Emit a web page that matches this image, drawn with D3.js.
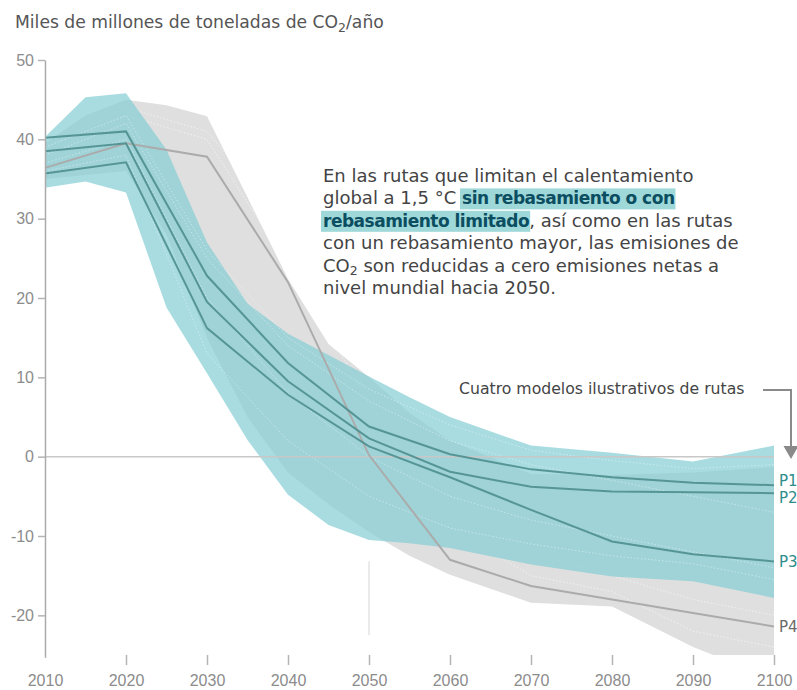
<!DOCTYPE html>
<meta charset="utf-8">
<title>Emisiones de CO2</title>
<style>
body { margin: 0; background: #fff; font-family: "DejaVu Sans", sans-serif; }
svg { display: block; }
.tick text { fill: #8c8c8c; font-size: 16px; }
.tick line { stroke: #b4b4b4; stroke-width: 1.5; }
text { white-space: pre; }
</style>
<body>
<div id="graph"></div>
</body>
<script src="https://cdn.jsdelivr.net/npm/d3@7"></script>
<script>

// illustrative pathways, Gt CO2 per year
var years = [2010, 2020, 2030, 2040, 2050, 2060, 2070, 2080, 2090, 2100];
var p1 = [40.2, 41.0, 22.8, 11.8, 3.8, 0.3, -1.6, -2.6, -3.3, -3.6];
var p2 = [38.5, 39.5, 19.5, 9.5, 2.3, -1.9, -3.8, -4.4, -4.5, -4.6];
var p3 = [35.7, 37.1, 16.2, 7.8, 1.3, -2.6, -6.7, -10.7, -12.3, -13.2];
var p4 = [36.4, 39.5, 37.8, 22.0, 0.2, -13.0, -16.3, -18.0, -19.7, -21.4];

// ranges: no/limited overshoot (teal) and higher overshoot (grey)
var bandYears = [2010, 2015, 2020, 2025, 2030, 2035, 2040, 2045, 2050, 2055, 2060, 2070, 2080, 2090, 2100];
var tealHigh = [40.3, 45.3, 45.8, 38.7, 27.0, 19.3, 15.5, 12.8, 10.1, 7.5, 5.0, 1.4, 0.5, -0.6, 1.4];
var tealLow  = [33.9, 34.7, 33.3, 18.8, 10.5, 2.1, -4.8, -8.6, -10.5, -10.9, -11.5, -13.6, -15.1, -15.7, -17.8];
var greyHigh = [39.5, 43.0, 45.0, 44.3, 42.9, 32.7, 22.4, 14.2, 10.0, 5.5, 2.0, -2.2, -2.3, -2.0, -1.3];
var greyLow  = [35.0, 35.5, 36.0, 28.0, 15.0, 5.0, -2.0, -6.0, -9.5, -12.5, -14.9, -18.4, -18.9, -24.0, -28.0];

// a few of the faint individual pathways
var tealRuns = [
  [38.0, 42.0, 25.0, 14.0, 7.0, 2.0, -1.0, -3.0, -5.0, -7.0],
  [37.0, 40.0, 20.0, 8.0, 0.0, -5.0, -8.0, -10.0, -12.0, -14.0],
  [39.0, 43.0, 26.0, 15.0, 8.5, 4.0, 0.8, -0.5, -1.5, -1.0],
  [36.0, 38.0, 13.0, 2.0, -5.0, -9.0, -11.0, -12.5, -13.5, -15.5]
];
var greyRuns = [
  [39.0, 44.0, 41.0, 29.0, 11.0, -5.0, -12.0, -15.0, -18.0, -20.0],
  [38.0, 43.0, 40.0, 24.0, 7.0, -9.0, -15.0, -17.0, -22.0, -24.0]
];

var yTicks = [50, 40, 30, 20, 10, 0, -10, -20];
var xTicks = [2010, 2020, 2030, 2040, 2050, 2060, 2070, 2080, 2090, 2100];
var labels = [
  {name: 'P1', values: p1, color: '#2f8c8c'},
  {name: 'P2', values: p2, color: '#2f8c8c'},
  {name: 'P3', values: p3, color: '#2f8c8c'},
  {name: 'P4', values: p4, color: '#6a6a6a'}
];
// P1 and P2 end close together, spread their labels a little
var labelNudge = {P1: -5, P2: 4.5, P3: 0, P4: 0};

var width = 797, height = 690;
var x = d3.scaleLinear().domain([2010, 2100]).range([45, 774]);
var y = d3.scaleLinear().domain([-25, 50]).range([655, 60]);

var svg = d3.select('#graph').append('svg')
    .attr('width', width).attr('height', height);

svg.append('clipPath').attr('id', 'plot')
  .append('rect').attr('x', 45).attr('y', 40).attr('width', 740).attr('height', 615);

var plot = svg.append('g').attr('clip-path', 'url(#plot)');

var area = function(hi, lo){
  return d3.area()
    .x(function(d, i){ return x(bandYears[i]) })
    .y0(function(d, i){ return y(lo[i]) })
    .y1(function(d, i){ return y(hi[i]) })(bandYears);
};
var line = d3.line()
    .x(function(d, i){ return x(years[i]) })
    .y(function(d){ return y(d) });

plot.append('path').attr('d', area(greyHigh, greyLow)).attr('fill', '#dfdfdf');
greyRuns.forEach(function(r){
  plot.append('path').attr('d', line(r))
    .attr('fill', 'none').attr('stroke', '#fff').attr('stroke-opacity', 0.55)
    .attr('stroke-dasharray', '1.5 2');
});

plot.append('path').attr('d', area(tealHigh, tealLow))
    .attr('fill', 'rgb(131,205,211)').attr('fill-opacity', 0.7);
tealRuns.forEach(function(r){
  plot.append('path').attr('d', line(r))
    .attr('fill', 'none').attr('stroke', '#fff').attr('stroke-opacity', 0.4)
    .attr('stroke-dasharray', '1.5 2');
});

// zero line
svg.append('line')
    .attr('x1', x(2010)).attr('x2', x(2100)).attr('y1', y(0)).attr('y2', y(0))
    .attr('stroke', '#c8c8c8').attr('stroke-width', 1.5);

// 2050 marker
svg.append('line')
    .attr('x1', x(2050)).attr('x2', x(2050)).attr('y1', y(-13.2)).attr('y2', y(-22.5))
    .attr('stroke', '#d6d6d6').attr('stroke-width', 1);

// illustrative pathways
svg.append('path').attr('d', line(p4))
    .attr('fill', 'none').attr('stroke', '#ababab').attr('stroke-width', 2);
[p1, p2, p3].forEach(function(p){
  svg.append('path').attr('d', line(p))
    .attr('fill', 'none').attr('stroke', '#4e8e8f').attr('stroke-width', 2)
    .attr('stroke-opacity', 0.9);
});

labels.forEach(function(d){
  svg.append('text')
      .attr('x', 779).attr('y', y(d.values[d.values.length - 1]) + 5.5 + labelNudge[d.name])
      .attr('fill', d.color).attr('font-size', 15)
      .text(d.name);
});

// axes
var yAxis = svg.append('g').attr('transform', 'translate(45,0)')
    .call(d3.axisLeft(y).tickValues(yTicks).tickFormat(function(d){ return String(d) })
      .tickSize(7).tickSizeOuter(0).tickPadding(4));
yAxis.select('.domain').attr('stroke', '#aaa').attr('stroke-width', 1.5);

var xAxis = svg.append('g').attr('transform', 'translate(0,655)')
    .call(d3.axisBottom(x).tickValues(xTicks).tickFormat(function(d){ return String(d) })
      .tickSize(10).tickPadding(10));
xAxis.select('.domain').remove();
xAxis.selectAll('.tick line').filter(function(d){ return d === 2010 }).attr('y2', 3);

// title
var title = svg.append('text').attr('x', 15).attr('y', 28)
    .attr('fill', '#555').attr('font-size', 17.2);
title.append('tspan').text('Miles de millones de toneladas de CO');
title.append('tspan').attr('dy', 4).attr('font-size', 12.5).text('2');
title.append('tspan').attr('dy', -4).text('/año');

// annotation with highlighted runs
var note = [
  [{t: 'En las rutas que limitan el calentamiento'}],
  [{t: 'global a 1,5 °C '}, {t: 'sin rebasamiento o con', b: true}],
  [{t: 'rebasamiento limitado', b: true}, {t: ', así como en las rutas'}],
  [{t: 'con un rebasamiento mayor, las emisiones de'}],
  [{t: 'CO'}, {t: '2', sub: true}, {t: ' son reducidas a cero emisiones netas a'}],
  [{t: 'nivel mundial hacia 2050.'}]
];
var noteG = svg.append('g');
var hl = noteG.append('g');
note.forEach(function(parts, li){
  var cx = 323, by = 182 + li * 22.4;
  parts.forEach(function(p){
    var t = noteG.append('text')
        .attr('x', cx).attr('y', p.sub ? by + 3.5 : by)
        .attr('font-size', p.sub ? 12.5 : (p.b ? 17 : 18))
        .attr('letter-spacing', p.b ? -0.5 : null)
        .attr('font-weight', p.b ? 'bold' : null)
        .attr('fill', p.b ? '#0c4e61' : '#444')
        .text(p.t);
    var w = t.node().getComputedTextLength();
    if (p.b) {
      hl.append('rect')
          .attr('x', cx - 2).attr('y', by - 16)
          .attr('width', w + 3).attr('height', 21)
          .attr('fill', '#9fd8d9');
    }
    cx += w;
  });
});

// pointer to the four pathways
svg.append('text').attr('x', 459).attr('y', 394)
    .attr('fill', '#444').attr('font-size', 15.7)
    .text('Cuatro modelos ilustrativos de rutas');
svg.append('path')
    .attr('d', 'M763,390H791V448')
    .attr('fill', 'none').attr('stroke', '#8a8a8a').attr('stroke-width', 2);
svg.append('path')
    .attr('d', 'M783.5,446L798.5,446L791,459Z')
    .attr('fill', '#8a8a8a');

</script>
